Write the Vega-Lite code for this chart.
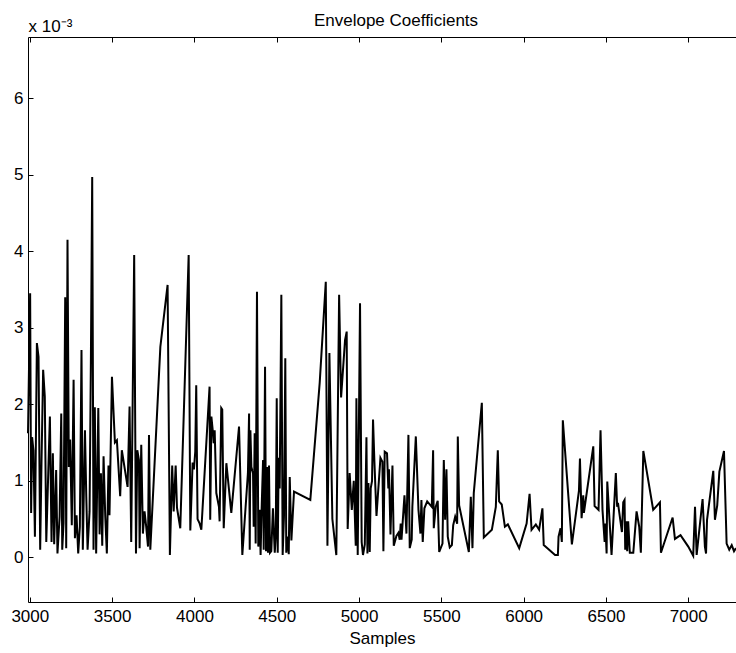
{
  "$schema": "https://vega.github.io/schema/vega-lite/v6.json",
  "width": 708,
  "height": 565,
  "autosize": {"type": "none"},
  "padding": {"left": 28, "top": 37, "right": 0, "bottom": 51},
  "background": "white",
  "config": {
    "view": {"stroke": null},
    "font": "Liberation Sans",
    "axis": {
      "grid": false,
      "domainColor": "black",
      "domainWidth": 1,
      "tickColor": "black",
      "tickWidth": 1,
      "labelColor": "black",
      "labelFont": "Liberation Sans",
      "labelFontSize": 17,
      "titleFont": "Liberation Sans",
      "titleFontSize": 17,
      "titleFontWeight": "normal",
      "titleColor": "black"
    }
  },
  "title": {
    "text": "Envelope Coefficients",
    "font": "Liberation Sans",
    "fontSize": 17,
    "fontWeight": "normal",
    "color": "black",
    "anchor": "middle",
    "frame": "group",
    "dx": 14,
    "offset": -26,
    "baseline": "alphabetic"
  },
  "data": {
    "values": [
      {"sample": 2989, "value": 0.00162}, {"sample": 3002, "value": 0.00345}, {"sample": 3008, "value": 0.00058}, {"sample": 3014, "value": 0.00157},
      {"sample": 3022, "value": 0.00140}, {"sample": 3031, "value": 0.00027}, {"sample": 3043, "value": 0.00280}, {"sample": 3053, "value": 0.00262},
      {"sample": 3063, "value": 0.00010}, {"sample": 3071, "value": 0.00123}, {"sample": 3081, "value": 0.00245}, {"sample": 3091, "value": 0.00210},
      {"sample": 3100, "value": 0.00020}, {"sample": 3112, "value": 0.00110}, {"sample": 3122, "value": 0.00184}, {"sample": 3132, "value": 0.00020},
      {"sample": 3140, "value": 0.00136}, {"sample": 3148, "value": 0.00017}, {"sample": 3160, "value": 0.00114}, {"sample": 3168, "value": 0.00005},
      {"sample": 3181, "value": 0.00053}, {"sample": 3191, "value": 0.00188}, {"sample": 3197, "value": 0.00010}, {"sample": 3205, "value": 0.00045},
      {"sample": 3215, "value": 0.00340}, {"sample": 3221, "value": 0.00012}, {"sample": 3229, "value": 0.00415}, {"sample": 3237, "value": 0.00118},
      {"sample": 3245, "value": 0.00154}, {"sample": 3255, "value": 0.00042}, {"sample": 3266, "value": 0.00232}, {"sample": 3274, "value": 0.00025},
      {"sample": 3284, "value": 0.00055}, {"sample": 3294, "value": 0.00005}, {"sample": 3304, "value": 0.00040}, {"sample": 3314, "value": 0.00271},
      {"sample": 3322, "value": 0.00010}, {"sample": 3335, "value": 0.00166}, {"sample": 3343, "value": 0.00080}, {"sample": 3351, "value": 0.00010},
      {"sample": 3363, "value": 0.00060}, {"sample": 3371, "value": 0.00258}, {"sample": 3379, "value": 0.00497}, {"sample": 3387, "value": 0.00010},
      {"sample": 3395, "value": 0.00196}, {"sample": 3403, "value": 0.00005}, {"sample": 3416, "value": 0.00195}, {"sample": 3424, "value": 0.00030},
      {"sample": 3432, "value": 0.00110}, {"sample": 3440, "value": 0.00015}, {"sample": 3448, "value": 0.00132}, {"sample": 3458, "value": 0.00055},
      {"sample": 3468, "value": 0.00005}, {"sample": 3478, "value": 0.00120}, {"sample": 3484, "value": 0.00055}, {"sample": 3499, "value": 0.00236},
      {"sample": 3517, "value": 0.00150}, {"sample": 3529, "value": 0.00153}, {"sample": 3549, "value": 0.00080}, {"sample": 3559, "value": 0.00140},
      {"sample": 3594, "value": 0.00092}, {"sample": 3606, "value": 0.00197}, {"sample": 3616, "value": 0.00020}, {"sample": 3634, "value": 0.00395},
      {"sample": 3645, "value": 0.00005}, {"sample": 3653, "value": 0.00140}, {"sample": 3663, "value": 0.00127}, {"sample": 3667, "value": 0.00012},
      {"sample": 3677, "value": 0.00147}, {"sample": 3687, "value": 0.00031}, {"sample": 3697, "value": 0.00060}, {"sample": 3707, "value": 0.00040},
      {"sample": 3718, "value": 0.00014}, {"sample": 3724, "value": 0.00160}, {"sample": 3732, "value": 0.00010}, {"sample": 3793, "value": 0.00275},
      {"sample": 3837, "value": 0.00356}, {"sample": 3851, "value": 0.00003}, {"sample": 3865, "value": 0.00120}, {"sample": 3874, "value": 0.00060},
      {"sample": 3886, "value": 0.00120}, {"sample": 3894, "value": 0.00065}, {"sample": 3914, "value": 0.00038}, {"sample": 3965, "value": 0.00395},
      {"sample": 3975, "value": 0.00035}, {"sample": 3989, "value": 0.00124}, {"sample": 3997, "value": 0.00115}, {"sample": 4005, "value": 0.00138},
      {"sample": 4011, "value": 0.00225}, {"sample": 4019, "value": 0.00050}, {"sample": 4032, "value": 0.00044}, {"sample": 4042, "value": 0.00036},
      {"sample": 4092, "value": 0.00223}, {"sample": 4096, "value": 0.00049}, {"sample": 4103, "value": 0.00184}, {"sample": 4113, "value": 0.00162},
      {"sample": 4117, "value": 0.00149}, {"sample": 4123, "value": 0.00166}, {"sample": 4133, "value": 0.00084}, {"sample": 4149, "value": 0.00066},
      {"sample": 4153, "value": 0.00047}, {"sample": 4163, "value": 0.00195}, {"sample": 4169, "value": 0.00193}, {"sample": 4178, "value": 0.00038},
      {"sample": 4194, "value": 0.00123}, {"sample": 4224, "value": 0.00058}, {"sample": 4271, "value": 0.00171}, {"sample": 4291, "value": 0.00003},
      {"sample": 4325, "value": 0.00110}, {"sample": 4332, "value": 0.00188}, {"sample": 4336, "value": 0.00010}, {"sample": 4340, "value": 0.00166},
      {"sample": 4346, "value": 0.00118}, {"sample": 4356, "value": 0.00110}, {"sample": 4360, "value": 0.00040}, {"sample": 4366, "value": 0.00162},
      {"sample": 4372, "value": 0.00018}, {"sample": 4380, "value": 0.00347}, {"sample": 4388, "value": 0.00014}, {"sample": 4396, "value": 0.00062},
      {"sample": 4402, "value": 0.00003}, {"sample": 4408, "value": 0.00062}, {"sample": 4417, "value": 0.00127}, {"sample": 4421, "value": 0.00010},
      {"sample": 4429, "value": 0.00249}, {"sample": 4435, "value": 0.00008}, {"sample": 4441, "value": 0.00118}, {"sample": 4447, "value": 0.00006},
      {"sample": 4453, "value": 0.00120}, {"sample": 4459, "value": 0.00006}, {"sample": 4467, "value": 0.00008}, {"sample": 4477, "value": 0.00064},
      {"sample": 4488, "value": 0.00006}, {"sample": 4494, "value": 0.00027}, {"sample": 4500, "value": 0.00208}, {"sample": 4506, "value": 0.00006},
      {"sample": 4512, "value": 0.00130}, {"sample": 4518, "value": 0.00090}, {"sample": 4528, "value": 0.00343}, {"sample": 4536, "value": 0.00003},
      {"sample": 4544, "value": 0.00053}, {"sample": 4552, "value": 0.00260}, {"sample": 4558, "value": 0.00006}, {"sample": 4567, "value": 0.00027},
      {"sample": 4573, "value": 0.00004}, {"sample": 4579, "value": 0.00105}, {"sample": 4589, "value": 0.00022}, {"sample": 4605, "value": 0.00086},
      {"sample": 4704, "value": 0.00075}, {"sample": 4761, "value": 0.00228}, {"sample": 4798, "value": 0.00360}, {"sample": 4808, "value": 0.00015},
      {"sample": 4820, "value": 0.00267}, {"sample": 4838, "value": 0.00050}, {"sample": 4862, "value": 0.00003}, {"sample": 4879, "value": 0.00343},
      {"sample": 4891, "value": 0.00209}, {"sample": 4915, "value": 0.00284}, {"sample": 4925, "value": 0.00295}, {"sample": 4931, "value": 0.00037},
      {"sample": 4943, "value": 0.00110}, {"sample": 4956, "value": 0.00062}, {"sample": 4968, "value": 0.00100}, {"sample": 4980, "value": 0.00015},
      {"sample": 4984, "value": 0.00208}, {"sample": 4992, "value": 0.00003}, {"sample": 5006, "value": 0.00332}, {"sample": 5016, "value": 0.00020},
      {"sample": 5024, "value": 0.00003}, {"sample": 5035, "value": 0.00017}, {"sample": 5045, "value": 0.00157}, {"sample": 5051, "value": 0.00005},
      {"sample": 5057, "value": 0.00097}, {"sample": 5065, "value": 0.00007}, {"sample": 5071, "value": 0.00090}, {"sample": 5079, "value": 0.00100},
      {"sample": 5085, "value": 0.00180}, {"sample": 5093, "value": 0.00127}, {"sample": 5106, "value": 0.00054}, {"sample": 5130, "value": 0.00130},
      {"sample": 5142, "value": 0.00125}, {"sample": 5148, "value": 0.00008}, {"sample": 5156, "value": 0.00138}, {"sample": 5170, "value": 0.00136},
      {"sample": 5178, "value": 0.00090}, {"sample": 5182, "value": 0.00115}, {"sample": 5191, "value": 0.00030}, {"sample": 5203, "value": 0.00120},
      {"sample": 5211, "value": 0.00015}, {"sample": 5227, "value": 0.00028}, {"sample": 5239, "value": 0.00032}, {"sample": 5247, "value": 0.00023},
      {"sample": 5253, "value": 0.00044}, {"sample": 5258, "value": 0.00023}, {"sample": 5276, "value": 0.00081}, {"sample": 5288, "value": 0.00031},
      {"sample": 5300, "value": 0.00160}, {"sample": 5308, "value": 0.00012}, {"sample": 5320, "value": 0.00023}, {"sample": 5324, "value": 0.00066},
      {"sample": 5345, "value": 0.00158}, {"sample": 5361, "value": 0.00062}, {"sample": 5373, "value": 0.00031}, {"sample": 5379, "value": 0.00075},
      {"sample": 5387, "value": 0.00020}, {"sample": 5397, "value": 0.00064}, {"sample": 5414, "value": 0.00073}, {"sample": 5442, "value": 0.00066},
      {"sample": 5450, "value": 0.00140}, {"sample": 5454, "value": 0.00038}, {"sample": 5466, "value": 0.00066}, {"sample": 5478, "value": 0.00074},
      {"sample": 5487, "value": 0.00007}, {"sample": 5507, "value": 0.00018}, {"sample": 5515, "value": 0.00127}, {"sample": 5523, "value": 0.00049},
      {"sample": 5531, "value": 0.00115}, {"sample": 5539, "value": 0.00027}, {"sample": 5551, "value": 0.00013}, {"sample": 5564, "value": 0.00016},
      {"sample": 5572, "value": 0.00042}, {"sample": 5584, "value": 0.00053}, {"sample": 5596, "value": 0.00044}, {"sample": 5600, "value": 0.00158},
      {"sample": 5608, "value": 0.00068}, {"sample": 5667, "value": 0.00007}, {"sample": 5679, "value": 0.00079}, {"sample": 5689, "value": 0.00012},
      {"sample": 5697, "value": 0.00084}, {"sample": 5746, "value": 0.00202}, {"sample": 5758, "value": 0.00026}, {"sample": 5807, "value": 0.00036},
      {"sample": 5831, "value": 0.00066}, {"sample": 5843, "value": 0.00140}, {"sample": 5851, "value": 0.00073}, {"sample": 5867, "value": 0.00069},
      {"sample": 5886, "value": 0.00040}, {"sample": 5904, "value": 0.00043}, {"sample": 5973, "value": 0.00012}, {"sample": 6018, "value": 0.00044},
      {"sample": 6036, "value": 0.00083}, {"sample": 6048, "value": 0.00036}, {"sample": 6074, "value": 0.00043}, {"sample": 6094, "value": 0.00036},
      {"sample": 6114, "value": 0.00064}, {"sample": 6122, "value": 0.00016}, {"sample": 6191, "value": 0.00003}, {"sample": 6208, "value": 0.00003},
      {"sample": 6212, "value": 0.00027}, {"sample": 6224, "value": 0.00038}, {"sample": 6232, "value": 0.00020}, {"sample": 6238, "value": 0.00179},
      {"sample": 6293, "value": 0.00017}, {"sample": 6336, "value": 0.00087}, {"sample": 6342, "value": 0.00129}, {"sample": 6352, "value": 0.00051},
      {"sample": 6362, "value": 0.00081}, {"sample": 6366, "value": 0.00058}, {"sample": 6423, "value": 0.00145}, {"sample": 6431, "value": 0.00067},
      {"sample": 6455, "value": 0.00062}, {"sample": 6467, "value": 0.00166}, {"sample": 6479, "value": 0.00062}, {"sample": 6492, "value": 0.00020},
      {"sample": 6496, "value": 0.00044}, {"sample": 6504, "value": 0.00005}, {"sample": 6508, "value": 0.00099}, {"sample": 6534, "value": 0.00003},
      {"sample": 6560, "value": 0.00110}, {"sample": 6568, "value": 0.00066}, {"sample": 6573, "value": 0.00071}, {"sample": 6597, "value": 0.00033},
      {"sample": 6605, "value": 0.00072}, {"sample": 6613, "value": 0.00075}, {"sample": 6617, "value": 0.00010}, {"sample": 6625, "value": 0.00047},
      {"sample": 6629, "value": 0.00008}, {"sample": 6635, "value": 0.00047}, {"sample": 6645, "value": 0.00006}, {"sample": 6666, "value": 0.00006},
      {"sample": 6686, "value": 0.00060}, {"sample": 6702, "value": 0.00040}, {"sample": 6712, "value": 0.00006}, {"sample": 6727, "value": 0.00139},
      {"sample": 6787, "value": 0.00062}, {"sample": 6828, "value": 0.00072}, {"sample": 6834, "value": 0.00006}, {"sample": 6905, "value": 0.00052},
      {"sample": 6919, "value": 0.00024}, {"sample": 6953, "value": 0.00029}, {"sample": 7000, "value": 0.00014}, {"sample": 7030, "value": 0.00002},
      {"sample": 7041, "value": 0.00066}, {"sample": 7051, "value": 0.00003}, {"sample": 7087, "value": 0.00076}, {"sample": 7101, "value": 0.00014},
      {"sample": 7108, "value": 0.00005}, {"sample": 7114, "value": 0.00049}, {"sample": 7152, "value": 0.00113}, {"sample": 7162, "value": 0.00049},
      {"sample": 7176, "value": 0.00068}, {"sample": 7189, "value": 0.00112}, {"sample": 7217, "value": 0.00139}, {"sample": 7233, "value": 0.00018},
      {"sample": 7249, "value": 0.00010}, {"sample": 7264, "value": 0.00016}, {"sample": 7278, "value": 0.00008}, {"sample": 7290, "value": 0.00012}
    ]
  },
  "layer": [
    {
      "mark": {"type": "line", "color": "black", "strokeWidth": 2},
      "encoding": {
        "x": {
          "field": "sample", "type": "quantitative",
          "scale": {"domain": [2989, 7290], "nice": false, "zero": false},
          "axis": {
            "orient": "bottom",
            "values": [3000, 3500, 4000, 4500, 5000, 5500, 6000, 6500, 7000],
            "format": "d",
            "tickSize": -5,
            "labelPadding": 11,
            "title": "Samples",
            "titlePadding": 6
          }
        },
        "y": {
          "field": "value", "type": "quantitative",
          "scale": {"domain": [-0.000584, 0.0068], "nice": false, "zero": false},
          "axis": {
            "values": [0, 0.001, 0.002, 0.003, 0.004, 0.005, 0.006],
            "labelExpr": "round(datum.value * 1000)",
            "tickSize": -5,
            "labelPadding": 10,
            "title": "x 10⁻³",
            "titleAngle": 0,
            "titleAlign": "left",
            "titleBaseline": "alphabetic",
            "titleX": 0,
            "titleY": -6
          }
        }
      }
    },
    {
      "mark": {"type": "line", "strokeOpacity": 0},
      "encoding": {
        "x": {
          "field": "sample", "type": "quantitative",
          "axis": {
            "orient": "top",
            "values": [3000, 3500, 4000, 4500, 5000, 5500, 6000, 6500, 7000],
            "labels": false,
            "tickSize": -5,
            "title": null
          }
        },
        "y": {"field": "value", "type": "quantitative", "axis": null}
      }
    }
  ],
  "resolve": {"axis": {"x": "independent", "y": "independent"}}
}
